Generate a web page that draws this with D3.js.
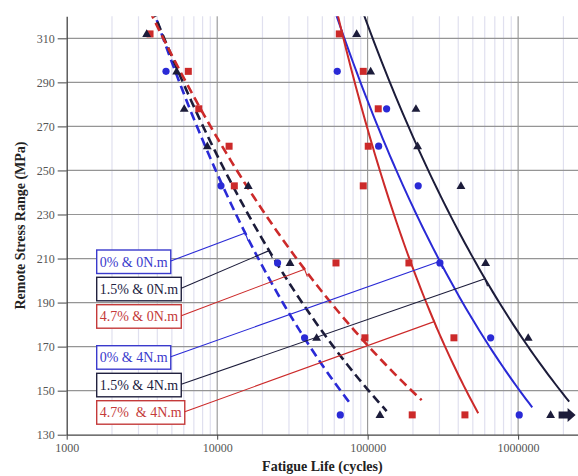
<!DOCTYPE html>
<html>
<head>
<meta charset="utf-8">
<script src="https://cdn.jsdelivr.net/npm/d3@7"></script>
<style>
  body { margin: 0; background: #fff; }
  svg { display: block; font-family: 'Liberation Serif', 'Times New Roman', serif; }
</style>
</head>
<body>
<svg></svg>
<script>
// chart size and plot area (pixels)
var width = 578;
var height = 476;
var plot = { left: 66.7, right: 578, top: 16.3, bottom: 434.7 };

// stress levels tested (MPa)
var stressLevels = [312, 295, 278, 261, 243, 208, 174, 139];

// fatigue life in cycles, one value per stress level (null = not shown)
var blue0N  = [null, 4570, null, null, 10600, 25200, 38100, 65800];
var black0N = [3400, 5380, 6040, 8600, 16100, 30500, 45800, 120700];
var red0N   = [3580, 6430, 7550, 12000, 13000, 61600, 95900, 197800];
var blue4N  = [null, 62800, 133700, 118300, 216800, 302200, 656700, 1017000];
var black4N = [84500, 104700, 209400, 214800, 416900, 608200, 1167000, 1644000];
var red4N   = [64800, 93500, 117600, 100900, 93500, 188100, 374500, 443100];

// power law trend lines  S = A * N^b
var fitNames = ['0% & 0N.m', '1.5% & 0N.m', '4.7% & 0N.m', '0% & 4N.m', '1.5% & 4N.m', '4.7%  & 4N.m'];
var fitA     = [2920, 2176, 1538, 6339, 5791, 22920];
var fitB     = [-0.2675, -0.2320, -0.1910, -0.2705, -0.2526, -0.3862];
var fitStart = [3700, 3700, 3550, 59000, 90000, 60000];
var fitEnd   = [76300, 133700, 228500, 1241000, 2185000, 543000];
// where each label's leader line meets its trend line (cycles)
var leaderN  = [15360, 22140, 38050, 302200, 601700, 276700];

var xTicks = [1000, 10000, 100000, 1000000];
var yTicks = [130, 150, 170, 190, 210, 230, 250, 270, 290, 310];

// styles
var blue = '#2a2ad6';
var navy = '#1c1c3a';
var red = '#cc2a2a';
var fitColor = [blue, navy, red, blue, navy, red];
var labelColor = ['#3a3acc', '#22223f', '#c43a3a', '#3a3acc', '#22223f', '#c43a3a'];
var labelTop = [250, 277.3, 304.7, 345.7, 373.3, 400.7]; // pixel layout of the label boxes

var xScale = d3.scaleLog()
  .domain([1000, 2500000])
  .range([plot.left, plot.right]);

var yScale = d3.scaleLinear()
  .domain([130, 320])
  .range([plot.bottom, plot.top]);

var svg = d3.select('svg')
  .attr('width', width)
  .attr('height', height);

svg.append('defs').append('clipPath')
    .attr('id', 'plotClip')
  .append('rect')
    .attr('x', plot.left)
    .attr('y', plot.top)
    .attr('width', plot.right - plot.left)
    .attr('height', plot.bottom - plot.top);

// vertical grid: minor lines first, then decades
var minorX = [];
[1000, 10000, 100000, 1000000].forEach(function(dec) {
  for (var m = 2; m <= 9; m++) minorX.push(dec * m);
});
minorX = minorX.filter(d => d <= 2500000);

svg.append('g')
  .selectAll('line')
  .data(minorX)
  .enter()
  .append('line')
    .attr('x1', d => xScale(d))
    .attr('x2', d => xScale(d))
    .attr('y1', plot.top)
    .attr('y2', plot.bottom)
    .style('stroke', '#e0e0ef')
    .style('stroke-width', 1.2);

svg.append('g')
  .selectAll('line')
  .data(xTicks.slice(1))
  .enter()
  .append('line')
    .attr('x1', d => xScale(d))
    .attr('x2', d => xScale(d))
    .attr('y1', plot.top)
    .attr('y2', plot.bottom)
    .style('stroke', '#8a8a8a')
    .style('stroke-width', 1);

// horizontal grid
svg.append('g')
  .selectAll('line')
  .data(yTicks.slice(1))
  .enter()
  .append('line')
    .attr('x1', plot.left)
    .attr('x2', plot.right)
    .attr('y1', d => yScale(d))
    .attr('y2', d => yScale(d))
    .style('stroke', '#959595')
    .style('stroke-width', 1.2);

// axes
var yAxis = d3.axisLeft(yScale)
  .tickValues(yTicks)
  .tickSize(9)
  .tickSizeOuter(0)
  .tickPadding(3);

var xAxis = d3.axisBottom(xScale)
  .tickValues(xTicks)
  .tickFormat(d3.format('d'))
  .tickSize(5)
  .tickSizeOuter(0)
  .tickPadding(4);

var gy = svg.append('g')
  .attr('transform', 'translate(' + plot.left + ',0)')
  .call(yAxis);

var gx = svg.append('g')
  .attr('transform', 'translate(0,' + plot.bottom + ')')
  .call(xAxis);

[gx, gy].forEach(function(g) {
  g.select('.domain').style('stroke', '#444').style('stroke-width', 1.3);
  g.selectAll('.tick line').style('stroke', '#444');
  g.selectAll('text')
    .style('font-family', "'Liberation Serif', serif")
    .style('font-size', '12px')
    .style('fill', '#555');
});

// axis titles
svg.append('text')
  .attr('x', (plot.left + plot.right) / 2)
  .attr('y', 471)
  .attr('text-anchor', 'middle')
  .style('font-size', '14px')
  .style('font-weight', 'bold')
  .style('fill', '#222')
  .text('Fatigue Life (cycles)');

svg.append('text')
  .attr('transform', 'translate(25,' + ((plot.top + plot.bottom) / 2) + ') rotate(-90)')
  .attr('text-anchor', 'middle')
  .style('font-size', '14px')
  .style('font-weight', 'bold')
  .style('fill', '#222')
  .text('Remote Stress Range (MPa)');

// trend lines
function fitValue(i, n) { return fitA[i] * Math.pow(n, fitB[i]); }

var fitLine = d3.line()
  .x(d => xScale(d[0]))
  .y(d => yScale(d[1]));

var fits = svg.append('g').attr('clip-path', 'url(#plotClip)');
fitNames.forEach(function(name, i) {
  var lo = Math.log10(fitStart[i]), hi = Math.log10(fitEnd[i]);
  var pts = d3.range(0, 61).map(function(k) {
    var n = Math.pow(10, lo + (hi - lo) * k / 60);
    return [n, fitValue(i, n)];
  });
  fits.append('path')
    .datum(pts)
    .attr('d', fitLine)
    .style('fill', 'none')
    .style('stroke', fitColor[i])
    .style('stroke-width', i < 3 ? 2.6 : 2)
    .style('stroke-dasharray', i < 3 ? '9,5' : null);
});

// data points
function toPoints(arr) {
  return arr.map((n, i) => ({ n: n, s: stressLevels[i] })).filter(d => d.n != null);
}

var triangle = d3.symbol().type(d3.symbolTriangle).size(34);

[red0N, red4N].forEach(function(arr) {
  svg.append('g')
    .selectAll('rect')
    .data(toPoints(arr))
    .enter()
    .append('rect')
      .attr('x', d => xScale(d.n) - 3.5)
      .attr('y', d => yScale(d.s) - 3.5)
      .attr('width', 7)
      .attr('height', 7)
      .style('fill', red);
});

[blue0N, blue4N].forEach(function(arr) {
  svg.append('g')
    .selectAll('circle')
    .data(toPoints(arr))
    .enter()
    .append('circle')
      .attr('cx', d => xScale(d.n))
      .attr('cy', d => yScale(d.s))
      .attr('r', 3.6)
      .style('fill', blue);
});

[black0N, black4N].forEach(function(arr) {
  svg.append('g')
    .selectAll('path')
    .data(toPoints(arr))
    .enter()
    .append('path')
      .attr('d', triangle)
      .attr('transform', d => 'translate(' + xScale(d.n) + ',' + (yScale(d.s) + 0.5) + ')')
      .style('fill', navy);
});

// run-out arrow after the last 1.5% & 4N.m specimen
var ax = xScale(black4N[black4N.length - 1]);
var ay = yScale(stressLevels[stressLevels.length - 1]);
svg.append('path')
  .attr('d', 'M' + (ax + 8) + ',' + (ay - 3.5) + 'H' + (ax + 17) + 'V' + (ay - 7) +
             'L' + (ax + 25) + ',' + ay + 'L' + (ax + 17) + ',' + (ay + 7) +
             'V' + (ay + 3.5) + 'H' + (ax + 8) + 'Z')
  .style('fill', navy);

// labels with leader lines
var labels = svg.append('g');
fitNames.forEach(function(name, i) {
  var g = labels.append('g');
  var t = g.append('text')
    .attr('x', 99.7)
    .attr('y', labelTop[i] + 16.5)
    .style('font-size', '14px')
    .style('fill', labelColor[i])
    .style('white-space', 'pre')
    .text(name);
  var w = t.node().getComputedTextLength() + 6;
  g.insert('rect', 'text')
    .attr('x', 96.7)
    .attr('y', labelTop[i])
    .attr('width', w)
    .attr('height', 23.5)
    .style('fill', '#fff')
    .style('stroke', labelColor[i])
    .style('stroke-width', 1.4);

  var x0 = 96.7 + w, y0 = labelTop[i] + 11;
  var x1 = xScale(leaderN[i]), y1 = yScale(fitValue(i, leaderN[i]));
  var len = Math.hypot(x1 - x0, y1 - y0);
  var px = -(y1 - y0) / len, py = (x1 - x0) / len;
  g.append('line')
    .attr('x1', x0).attr('y1', y0)
    .attr('x2', x1).attr('y2', y1)
    .style('stroke', fitColor[i])
    .style('stroke-width', 1.1);
  g.append('line')
    .attr('x1', x1 - 2 * px).attr('y1', y1 - 2 * py)
    .attr('x2', x1 + 8 * px).attr('y2', y1 + 8 * py)
    .style('stroke', fitColor[i])
    .style('stroke-width', 1.1);
});
</script>
</body>
</html>
